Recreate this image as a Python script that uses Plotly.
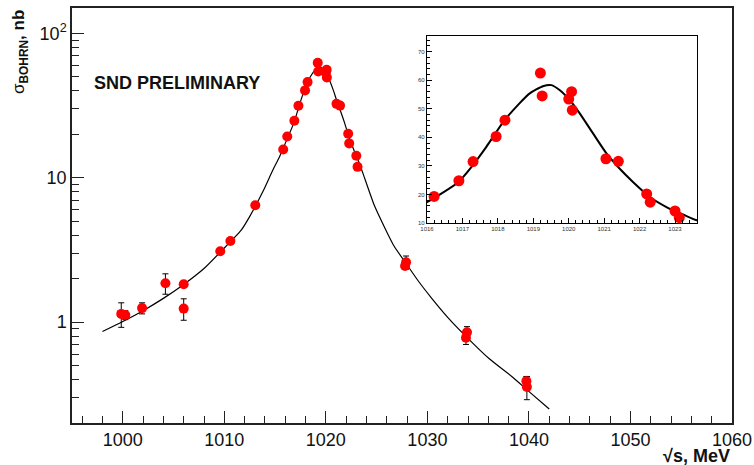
import plotly.graph_objects as go

# ---- data ----
energy = [999.85, 1000.25, 1001.9, 1004.2, 1006.0, 1006.0, 1009.6, 1010.6, 1013.05,
          1015.8, 1016.2, 1016.9, 1017.3, 1017.95, 1018.2, 1019.2, 1019.25, 1020.0,
          1020.08, 1020.1, 1021.05, 1021.4, 1022.2, 1022.3, 1023.0, 1023.12,
          1027.8, 1027.9, 1033.8, 1033.9, 1039.75, 1039.8]
sigma = [1.14, 1.12, 1.25, 1.86, 1.83, 1.24, 3.1, 3.65, 6.45,
         15.7, 19.3, 24.8, 31.5, 40.3, 46.0, 62.5, 54.5, 53.4,
         56.0, 49.5, 32.5, 31.6, 20.2, 17.3, 14.2, 11.9,
         2.45, 2.6, 0.78, 0.85, 0.39, 0.355]
err_up = [0.22, 0.08, 0.11, 0.30, 0.07, 0.21, 0.10, 0.12, 0.20,
          0.5, 0.6, 0.7, 0.8, 1.0, 1.5, 1.5, 1.3, 1.3,
          1.3, 1.2, 0.9, 0.9, 0.6, 0.6, 0.5, 0.5,
          0.12, 0.27, 0.08, 0.08, 0.03, 0.065]
err_dn = [0.22, 0.08, 0.11, 0.30, 0.07, 0.21, 0.10, 0.12, 0.20,
          0.5, 0.6, 0.7, 0.8, 1.0, 1.5, 1.5, 1.3, 1.3,
          1.3, 1.2, 0.9, 0.9, 0.6, 0.6, 0.5, 0.5,
          0.12, 0.27, 0.08, 0.08, 0.03, 0.065]

fit_x = [998.0, 1000.0, 1002.0, 1004.0, 1005.9, 1008.0, 1009.6, 1011.66, 1012.48,
         1013.79, 1014.78, 1015.44, 1016.0, 1016.88, 1017.29, 1017.67, 1018.19,
         1018.61, 1018.9, 1019.27, 1019.51, 1019.75, 1020.03, 1020.31, 1020.69,
         1021.07, 1021.44, 1021.82, 1022.29, 1022.77, 1023.24, 1023.62, 1024.75,
         1025.74, 1026.73, 1027.9, 1029.05, 1030.37, 1032.0, 1033.7, 1036.1,
         1038.4, 1040.1, 1042.0]
fit_y = [0.86, 1.01, 1.20, 1.46, 1.80, 2.35, 3.05, 4.33, 5.36,
         8.0, 11.3, 14.0, 17.3, 24.3, 30.2, 36.6, 46.0,
         51.9, 55.4, 57.9, 58.3, 56.5, 53.0, 48.4, 41.3,
         34.3, 29.0, 24.3, 19.1, 15.5, 12.9, 10.9, 6.5,
         4.6, 3.35, 2.55, 1.95, 1.48, 1.08, 0.81, 0.557,
         0.415, 0.326, 0.25]

main_xticks = [1000, 1010, 1020, 1030, 1040, 1050, 1060]
main_xminor = [996, 998, 1002, 1004, 1006, 1008, 1012, 1014, 1016, 1018,
               1022, 1024, 1026, 1028, 1032, 1034, 1036, 1038, 1042, 1044,
               1046, 1048, 1052, 1054, 1056, 1058]
main_yticks = [1, 10, 100]
main_yticktext = ["1", "10", "10<sup>2</sup>"]
main_yminor = [0.2, 0.3, 0.4, 0.5, 0.6, 0.7, 0.8, 0.9, 2, 3, 4, 5, 6, 7, 8, 9,
               20, 30, 40, 50, 60, 70, 80, 90]
inset_xticks = [1016, 1017, 1018, 1019, 1020, 1021, 1022, 1023]
inset_yticks = [10, 20, 30, 40, 50, 60, 70]

FONT = "Liberation Sans"
AX = "#222222"

fig = go.Figure()

# main plot
fig.add_trace(go.Scatter(x=fit_x, y=fit_y, mode="lines",
                         line=dict(color="black", width=1.2, shape="spline", smoothing=0.6),
                         xaxis="x", yaxis="y", showlegend=False))
fig.add_trace(go.Scatter(x=energy, y=sigma, mode="markers",
                         marker=dict(color="#ff0000", size=10, line=dict(width=0)),
                         error_y=dict(type="data", array=err_up, arrayminus=err_dn,
                                      color="black", thickness=1, width=3),
                         xaxis="x", yaxis="y", showlegend=False))

# inset plot
fig.add_trace(go.Scatter(x=fit_x, y=fit_y, mode="lines",
                         line=dict(color="black", width=2, shape="spline", smoothing=0.6),
                         xaxis="x2", yaxis="y2", showlegend=False))
fig.add_trace(go.Scatter(x=energy, y=sigma, mode="markers",
                         marker=dict(color="#ff0000", size=11, line=dict(width=0)),
                         error_y=dict(type="data", array=err_up, arrayminus=err_dn,
                                      color="black", thickness=1, width=2),
                         xaxis="x2", yaxis="y2", showlegend=False))

fig.update_layout(
    width=754, height=465,
    margin=dict(l=0, r=0, t=0, b=0, autoexpand=False),
    paper_bgcolor="white", plot_bgcolor="white",
    font=dict(family=FONT, color="black"),
    xaxis=dict(domain=[72/754, 732/754], range=[995, 1060], automargin=False,
               tickmode="array", tickvals=main_xticks,
               ticks="inside", ticklen=12, tickwidth=1.3, tickcolor=AX,
               minor=dict(ticks="inside", tickmode="array", tickvals=main_xminor,
                          ticklen=7, tickwidth=1.3, tickcolor=AX, showgrid=False),
               showline=True, linecolor=AX, linewidth=1.5, mirror=True,
               showgrid=False, zeroline=False,
               tickfont=dict(family=FONT, size=18, color="#111"),
               anchor="y"),
    yaxis=dict(domain=[1-423/465, 1-8/465], type="log", automargin=False,
               range=[-0.699, 2.176],
               tickmode="array", tickvals=main_yticks, ticktext=main_yticktext,
               ticks="inside", ticklen=12, tickwidth=1.3, tickcolor=AX,
               minor=dict(ticks="inside", tickmode="array", tickvals=main_yminor,
                          ticklen=7, tickwidth=1.3, tickcolor=AX, showgrid=False),
               showline=True, linecolor=AX, linewidth=1.5, mirror=True,
               showgrid=False, zeroline=False,
               tickfont=dict(family=FONT, size=18, color="#111"),
               anchor="x"),
    xaxis2=dict(domain=[427/754, 697/754], range=[1016, 1023.62], automargin=False,
                tickmode="array", tickvals=inset_xticks,
                ticks="inside", ticklen=5, tickwidth=1, tickcolor="black",
                minor=dict(ticks="inside", dtick=0.2, tick0=1016, ticklen=3,
                           tickwidth=1, tickcolor="black", showgrid=False),
                showline=True, linecolor="black", linewidth=1.2, mirror=True,
                showgrid=False, zeroline=False,
                tickfont=dict(family=FONT, size=6, color="#333"),
                anchor="y2"),
    yaxis2=dict(domain=[1-223/465, 1-36/465], range=[10, 75.5], automargin=False,
                tickmode="array", tickvals=inset_yticks,
                ticks="inside", ticklen=5, tickwidth=1, tickcolor="black",
                minor=dict(ticks="inside", dtick=2, tick0=10, ticklen=3,
                           tickwidth=1, tickcolor="black", showgrid=False),
                showline=True, linecolor="black", linewidth=1.2, mirror=True,
                showgrid=False, zeroline=False,
                tickfont=dict(family=FONT, size=6, color="#333"),
                anchor="x2"),
    annotations=[
        dict(text="<b>SND PRELIMINARY</b>", xref="paper", yref="paper",
             x=92/754, y=1-83/465, xanchor="left", yanchor="middle",
             showarrow=False, font=dict(family=FONT, size=18, color="#111")),
        dict(text="<b>√s, MeV</b>", xref="paper", yref="paper",
             x=732/754, y=1-456/465, xanchor="right", yanchor="middle",
             showarrow=False, font=dict(family=FONT, size=18, color="#111")),
        dict(text="σ<sub><b>BOHRN</b></sub><b>, nb</b>", xref="paper", yref="paper",
             x=20/754, y=1-8/465, xanchor="center", yanchor="top", textangle=-90,
             showarrow=False, font=dict(family=FONT, size=17, color="#111")),
    ],
)

fig.write_html("out.html", config={"displayModeBar": False},
               post_script="document.body.style.margin='0';document.body.style.overflow='hidden';")
